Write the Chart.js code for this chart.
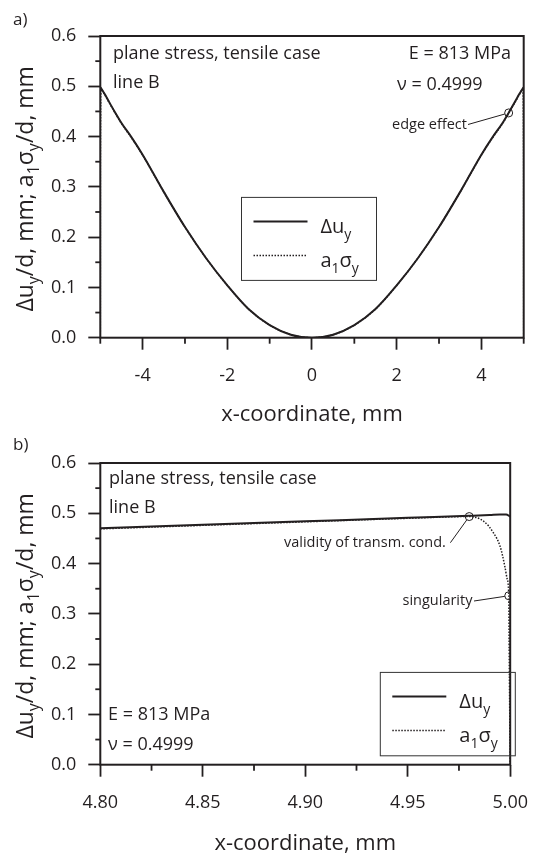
<!DOCTYPE html>
<html>
<head>
<meta charset="utf-8">
<script src="https://cdn.jsdelivr.net/npm/chart.js@4/dist/chart.umd.min.js"></script>
<style>
  html, body { margin: 0; padding: 0; background: #fff; }
  #wrap { position: relative; width: 543px; height: 857px; overflow: hidden; }
  canvas { position: absolute; left: 0; }
  #ca { top: 0; }
  #cb { top: 427px; }
</style>
</head>
<body>
<div id="wrap">
  <canvas id="ca" width="543" height="428"></canvas>
  <canvas id="cb" width="543" height="430"></canvas>
</div>
<script>
const INK = '#231f20';
const FONT = "'Open Sans', 'Noto Sans', sans-serif";

// ---- Panel a: whole line B, x from -5 to 5 mm ----
const xA   = [-5, -4.999, -4.98, -4.9, -4.8, -4.65, -4.5, -4.25, -4, -3.5, -3, -2.5, -2, -1.5, -1, -0.5, 0,
              0.5, 1, 1.5, 2, 2.5, 3, 3.5, 4, 4.25, 4.5, 4.65, 4.8, 4.9, 4.98, 4.999, 5];
const duA  = [0.497, 0.4975, 0.496, 0.485, 0.470, 0.448, 0.427, 0.397, 0.364, 0.290, 0.220, 0.158, 0.104, 0.057, 0.025, 0.006, 0.000,
              0.006, 0.025, 0.057, 0.104, 0.158, 0.220, 0.290, 0.364, 0.397, 0.427, 0.448, 0.470, 0.485, 0.496, 0.4975, 0.497];
const sigA = [0.000, 0.336, 0.4935, 0.484, 0.469, 0.447, 0.426, 0.396, 0.363, 0.290, 0.220, 0.158, 0.104, 0.057, 0.025, 0.006, 0.000,
              0.006, 0.025, 0.057, 0.104, 0.158, 0.220, 0.290, 0.363, 0.396, 0.426, 0.447, 0.469, 0.484, 0.4935, 0.336, 0.000];
const markAx = [4.645];
const markAy = [0.447];

// ---- Panel b: close-up of the right edge ----
const xDuB  = [4.80, 4.85, 4.90, 4.95, 4.98, 4.99, 4.995, 4.998, 5.00];
const duB   = [0.470, 0.477, 0.484, 0.491, 0.495, 0.4965, 0.4975, 0.4975, 0.4935];
const xSigB = [4.80, 4.85, 4.90, 4.95, 4.98, 4.9872, 4.9919, 4.9951, 4.9974, 4.9986, 4.9993, 4.9995, 5.00];
const sigB  = [0.469, 0.476, 0.483, 0.490, 0.4935, 0.4837, 0.4606, 0.434, 0.394, 0.368, 0.336, 0.229, 0.000];
const markBx = [4.98, 4.9993];
const markBy = [0.4935, 0.336];

// ---- Axis ticks ----
const yMajor = [0, 0.1, 0.2, 0.3, 0.4, 0.5, 0.6];
const yTickLabels = ['0.0', '0.1', '0.2', '0.3', '0.4', '0.5', '0.6'];
const yMinor = [0.05, 0.15, 0.25, 0.35, 0.45, 0.55];
const xMajorA = [-4, -2, 0, 2, 4];
const xTickLabelsA = ['-4', '-2', '0', '2', '4'];
const xMinorA = [-5, -3, -1, 1, 3, 5];
const xMajorB = [4.80, 4.85, 4.90, 4.95, 5.00];
const xTickLabelsB = ['4.80', '4.85', '4.90', '4.95', '5.00'];
const xMinorB = [4.825, 4.875, 4.925, 4.975];

const pts = (xs, ys) => xs.map((x, i) => ({ x, y: ys[i] }));

// '_' turns the following character into a subscript
function parseRich(s) {
  const out = [];
  for (let i = 0; i < s.length; i++) {
    if (s[i] === '_') { out.push({ t: s[i + 1], sub: true }); i++; }
    else if (out.length && !out[out.length - 1].sub) out[out.length - 1].t += s[i];
    else out.push({ t: s[i], sub: false });
  }
  return out;
}
function drawRich(ctx, s, x, y, size, align) {
  const parts = parseRich(s);
  const subSize = Math.round(size * 0.68);
  let w = 0;
  parts.forEach(p => {
    ctx.font = `${p.sub ? subSize : size}px ${FONT}`;
    p.w = ctx.measureText(p.t).width;
    w += p.w;
  });
  let cx = align === 'center' ? x - w / 2 : x;
  ctx.textAlign = 'left';
  ctx.textBaseline = 'alphabetic';
  parts.forEach(p => {
    ctx.font = `${p.sub ? subSize : size}px ${FONT}`;
    ctx.fillText(p.t, cx, y + (p.sub ? size * 0.27 : 0));
    cx += p.w;
  });
}

const decor = {
  id: 'decor',
  afterDraw(chart, args, o) {
    const { ctx, chartArea: a, scales: { x, y } } = chart;
    ctx.save();
    ctx.strokeStyle = INK;
    ctx.fillStyle = INK;
    const seg = (x1, y1, x2, y2) => { ctx.beginPath(); ctx.moveTo(x1, y1); ctx.lineTo(x2, y2); ctx.stroke(); };

    // minor ticks
    ctx.lineWidth = 1.8;
    o.minorX.forEach(v => { const px = x.getPixelForValue(v); seg(px, a.bottom, px, a.bottom + 6); });
    yMinor.forEach(v => { const py = y.getPixelForValue(v); seg(a.left - 5, py, a.left, py); });

    // frame
    ctx.lineWidth = 2;
    ctx.strokeRect(a.left, a.top, a.right - a.left, a.bottom - a.top);

    // panel tag
    ctx.font = `17px ${FONT}`;
    ctx.textAlign = 'left';
    ctx.textBaseline = 'alphabetic';
    ctx.fillText(o.tag, o.tagPos[0], o.tagPos[1]);

    // y axis title
    ctx.save();
    ctx.translate(33, (a.top + a.bottom) / 2 + 2);
    ctx.rotate(-Math.PI / 2);
    drawRich(ctx, 'Δu_y/d, mm; a_1σ_y/d, mm', 0, 0, 23, 'center');
    ctx.restore();

    // notes
    ctx.textBaseline = 'middle';
    o.notes.forEach(n => {
      ctx.font = `${n.size}px ${FONT}`;
      ctx.textAlign = n.align;
      ctx.fillText(n.text, n.x, n.y);
    });

    // leader lines to the marked points
    const marks = chart.getDatasetMeta(2).data;
    ctx.lineWidth = 1;
    o.leaders.forEach(l => {
      const m = marks[l.mark];
      const dx = l.from[0] - m.x, dy = l.from[1] - m.y;
      const d = Math.hypot(dx, dy);
      seg(l.from[0], l.from[1], m.x + dx / d * 4, m.y + dy / d * 4);
    });

    // legend
    const L = o.legend;
    ctx.lineWidth = 1;
    ctx.strokeStyle = '#333';
    ctx.strokeRect(L.left, L.top, L.width, L.height);
    ctx.strokeStyle = INK;
    const entries = [
      { ds: chart.data.datasets[1], y: L.top + 24 },
      { ds: chart.data.datasets[0], y: L.top + 58 }
    ];
    entries.forEach(e => {
      ctx.lineWidth = e.ds.borderWidth;
      ctx.setLineDash(e.ds.borderDash || []);
      seg(L.left + 12, e.y, L.left + 66, e.y);
      ctx.setLineDash([]);
      drawRich(ctx, e.ds.label, L.left + 79, e.y + 12, 20, 'left');
    });
    ctx.restore();
  }
};

function makeChart(id, cfg) {
  const canvas = document.getElementById(id);
  return new Chart(canvas, {
    type: 'scatter',
    data: {
      datasets: [
        { label: 'a_1σ_y', data: cfg.sig, showLine: true, borderColor: INK, borderWidth: 1.5,
          borderDash: [1.5, 1.5], pointRadius: 0, cubicInterpolationMode: 'monotone', order: 2 },
        { label: 'Δu_y', data: cfg.du, showLine: true, borderColor: INK, borderWidth: 2,
          pointRadius: 0, cubicInterpolationMode: 'monotone', order: 1 },
        { label: 'marks', data: cfg.marks, showLine: false, pointRadius: 4, pointBorderWidth: 1,
          pointBorderColor: INK, pointBackgroundColor: 'rgba(0,0,0,0)', order: 0 }
      ]
    },
    options: {
      responsive: false,
      animation: false,
      events: [],
      layout: { padding: { left: 0, top: 36, right: 19.3, bottom: 0 } },
      plugins: { legend: { display: false }, tooltip: { enabled: false }, decor: cfg.decor },
      scales: {
        x: {
          type: 'linear', position: 'bottom', min: cfg.xMin, max: cfg.xMax,
          afterBuildTicks: s => { s.ticks = cfg.xMajor.map(v => ({ value: v })); },
          afterFit: s => { s.height = canvas.height - 337.7; },
          ticks: { callback: (v, i) => cfg.xLabels[i], color: INK, font: { family: FONT, size: 18 },
                   padding: 15, maxRotation: 0, autoSkip: false },
          grid: { drawOnChartArea: false, tickLength: 12, tickColor: INK, tickWidth: 1.8 },
          border: { display: false },
          title: { display: true, text: 'x-coordinate, mm', color: INK,
                   font: { family: FONT, size: 22 }, padding: { top: 0, bottom: 0 } }
        },
        y: {
          type: 'linear', position: 'left', min: 0, max: 0.6,
          afterBuildTicks: s => { s.ticks = yMajor.map(v => ({ value: v })); },
          afterFit: s => { s.width = 100.3; },
          ticks: { callback: (v, i) => yTickLabels[i], color: INK, font: { family: FONT, size: 18 }, padding: 12 },
          grid: { drawOnChartArea: false, tickLength: 12, tickColor: INK, tickWidth: 1.8 },
          border: { display: false }
        }
      }
    },
    plugins: [decor]
  });
}

makeChart('ca', {
  du: pts(xA, duA), sig: pts(xA, sigA), marks: pts(markAx, markAy),
  xMin: -5, xMax: 5, xMajor: xMajorA, xLabels: xTickLabelsA,
  decor: {
    tag: 'a)', tagPos: [13, 25], minorX: xMinorA,
    notes: [
      { text: 'plane stress, tensile case', x: 113, y: 54, size: 18, align: 'left' },
      { text: 'line B', x: 113, y: 83, size: 18, align: 'left' },
      { text: 'E = 813 MPa', x: 511, y: 54, size: 18, align: 'right' },
      { text: 'ν = 0.4999', x: 397, y: 85, size: 18, align: 'left' },
      { text: 'edge effect', x: 392, y: 125, size: 14.5, align: 'left' }
    ],
    leaders: [{ from: [468, 124.5], mark: 0 }],
    legend: { left: 241.5, top: 197.4, width: 135, height: 83 }
  }
});

makeChart('cb', {
  du: pts(xDuB, duB), sig: pts(xSigB, sigB), marks: pts(markBx, markBy),
  xMin: 4.8, xMax: 5.0, xMajor: xMajorB, xLabels: xTickLabelsB,
  decor: {
    tag: 'b)', tagPos: [13, 22.5], minorX: xMinorB,
    notes: [
      { text: 'plane stress, tensile case', x: 109, y: 52.3, size: 18, align: 'left' },
      { text: 'line B', x: 109, y: 80.4, size: 18, align: 'left' },
      { text: 'validity of transm. cond.', x: 284, y: 115.4, size: 14.5, align: 'left' },
      { text: 'singularity', x: 402.5, y: 174, size: 14.5, align: 'left' },
      { text: 'E = 813 MPa', x: 108, y: 287.7, size: 18, align: 'left' },
      { text: 'ν = 0.4999', x: 108, y: 318, size: 18, align: 'left' }
    ],
    leaders: [{ from: [450.4, 115.7], mark: 0 }, { from: [474, 174], mark: 1 }],
    legend: { left: 380.3, top: 245.4, width: 135, height: 83.4 }
  }
});
</script>
</body>
</html>
